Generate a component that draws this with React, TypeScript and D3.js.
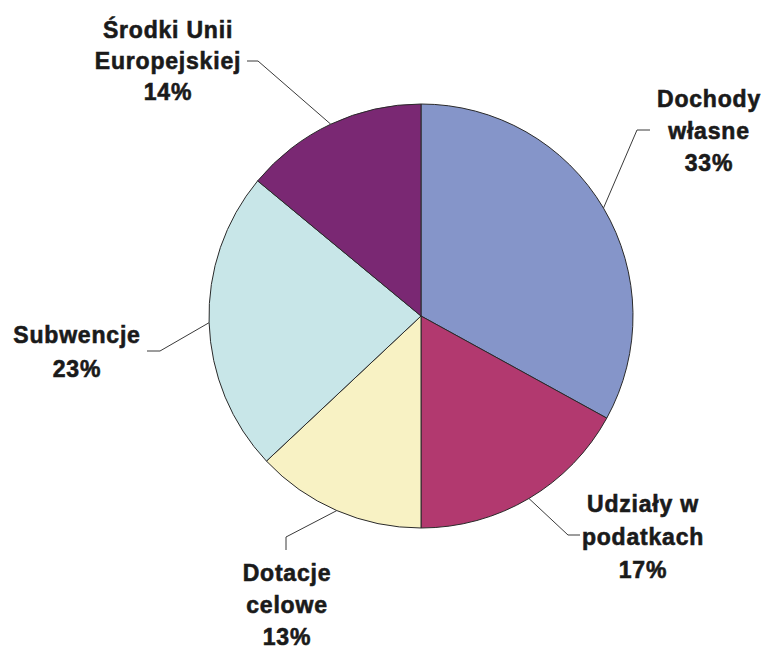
import React from "react";
import * as d3 from "d3";

const categories = ["Dochody własne", "Udziały w podatkach", "Dotacje celowe", "Subwencje", "Środki Unii Europejskiej"];
const values = [33, 17, 13, 23, 14];
const labelLines = [
  ["Dochody", "własne", "33%"],
  ["Udziały w", "podatkach", "17%"],
  ["Dotacje", "celowe", "13%"],
  ["Subwencje", "23%"],
  ["Środki Unii", "Europejskiej", "14%"],
];
const colors = ["#8595C9", "#B2396F", "#F8F2C4", "#C8E6E8", "#7A2873"];

// label layout: center x, first baseline, line step, leader elbow + end points
const labelLayout = [
  { x: 709, y: 107, step: 32, elbow: [637, 130], end: [650, 130] },
  { x: 643, y: 512, step: 33, elbow: [568, 535], end: [580, 535] },
  { x: 287, y: 581, step: 32, elbow: [286, 537], end: [286, 550] },
  { x: 77, y: 343, step: 34, elbow: [160, 351], end: [147, 351] },
  { x: 168, y: 38, step: 31, elbow: [258, 61], end: [247, 61] },
];

const W = 767;
const H = 649;
const cx = 421;
const cy = 316;
const R = 212;

export default function App() {
  const pie = d3.pie<number>().sort(null).value((d) => d).startAngle(0).endAngle(2 * Math.PI);
  const arcs = pie(values);
  const arcGen = d3.arc<d3.PieArcDatum<number>>().innerRadius(0).outerRadius(R);
  const edge = d3.arc<d3.PieArcDatum<number>>().innerRadius(R).outerRadius(R);

  return (
    <svg width={W} height={H} style={{ position: "absolute", left: 0, top: 0, background: "#fff" }}>
      <g transform={`translate(${cx},${cy})`}>
        {arcs.map((a, i) => (
          <path key={categories[i]} d={arcGen(a) || ""} fill={colors[i]} stroke="#2a2a2a" strokeWidth={1} strokeLinejoin="round" />
        ))}
      </g>
      {arcs.map((a, i) => {
        const [px, py] = edge.centroid(a);
        const L = labelLayout[i];
        const pts = [
          [cx + px, cy + py],
          L.elbow,
          L.end,
        ];
        return (
          <polyline
            key={"l" + i}
            points={pts.map((p) => p.join(",")).join(" ")}
            fill="none"
            stroke="#3a3a3a"
            strokeWidth={1}
          />
        );
      })}
      {labelLines.map((lines, i) => {
        const L = labelLayout[i];
        return (
          <text
            key={"t" + i}
            textAnchor="middle"
            fontFamily="'Liberation Sans', Arial, sans-serif"
            fontWeight="bold"
            fontSize={23}
            letterSpacing={0.8}
            fill="#1a1a1a"
            stroke="#1a1a1a"
            strokeWidth={0.6}
          >
            {lines.map((ln, j) => (
              <tspan key={j} x={L.x} y={L.y + j * L.step}>
                {ln}
              </tspan>
            ))}
          </text>
        );
      })}
    </svg>
  );
}
